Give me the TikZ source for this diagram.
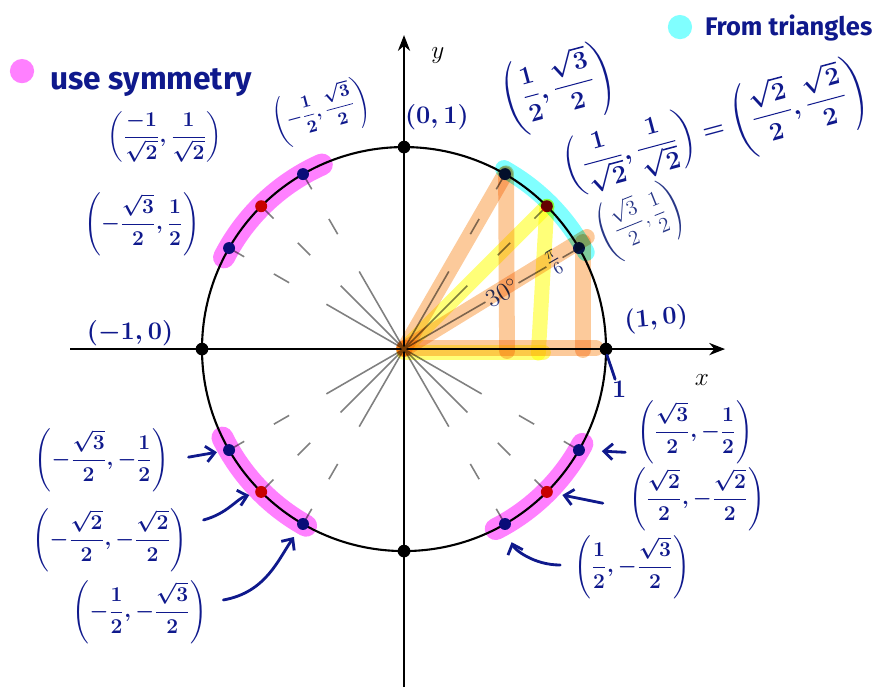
\documentclass[tikz,border=0pt]{standalone}
\usepackage{amsmath,amssymb}
\usepackage{fontspec}
\setsansfont{Fira Sans}
\usepackage{tikz}
\usetikzlibrary{arrows.meta,positioning,calc}
\definecolor{penBlue}{RGB}{15,25,140}
\definecolor{inkBlue}{RGB}{40,55,135}
\definecolor{dotBlue}{RGB}{10,25,120}
\definecolor{dotRed}{RGB}{200,0,0}
\definecolor{hlPink}{RGB}{255,128,255}
\definecolor{hlCyan}{RGB}{128,255,255}
\definecolor{hlOrange}{RGB}{252,202,155}
\definecolor{hlYellow}{RGB}{255,255,120}
\tikzset{
  hand/.style={text=penBlue, font=\boldmath\large, inner sep=1pt},
  handword/.style={text=penBlue, font=\sffamily\bfseries, inner sep=1pt},
  handarrow/.style={penBlue, line width=1.6pt, line cap=round, -{Straight Barb[length=5pt,width=9pt]}},
  hilite/.style={line width=#1, line cap=round, line join=round, blend mode=multiply},
  ray/.style={gray, line width=0.9pt, dash pattern=on 51pt off 24.5pt on 10pt off 19.5pt on 12pt},
}

\begin{document}
\begin{tikzpicture}[x=4.04cm, y=4.04cm]
    \useasboundingbox (-2.0,-1.673) rectangle (2.381,1.728);
    % Points on the unit circle
    \foreach \a in {0,30,45,60,90,120,135,150,180,210,225,240,270,300,315,330}
      \coordinate (p\a) at (\a:1);
    % Axes
    \coordinate (xL) at (-1.653,0);
    \coordinate (xR) at (1.589,0);
    \coordinate (yB) at (0,-1.673);
    \coordinate (yT) at (0,1.554);
    \draw[-{Stealth[length=9pt,width=7pt]}, line width=0.9pt] (xL) -- (xR);
    \draw[-{Stealth[length=9pt,width=7pt]}, line width=0.9pt] (yB) -- (yT);
    \node[font=\Large] (xlab) at (1.475,-0.153) {$x$};
    \node[font=\Large] (ylab) at (0.168,1.455) {$y$};
    % Rays to the special angles
    \foreach \a in {45,60,120,135,150,210,225,240,300,315,330}
      \draw[ray] (0,0) -- (p\a);
    \draw[gray, line width=0.9pt] (0,0) -- (p30)
      node[pos=0.56, sloped, fill=white, inner sep=1pt, text=inkBlue, font=\Large] (deg) {$30^\circ$}
      node[pos=0.86, sloped, fill=white, inner sep=1pt, text=inkBlue, font=\Large] (rad) {$\frac{\pi}{6}$};
    % Unit circle
    \draw[line width=1.2pt] (0,0) circle (1);
    % Dots
    \foreach \a in {0,90,180,270}
      \fill (p\a) circle (3.6pt);
    \foreach \a in {30,60,120,150,210,240,300,330}
      \fill[dotBlue] (p\a) circle (3.4pt);
    \foreach \a in {45,135,225,315}
      \fill[dotRed] (p\a) circle (3.4pt);
    % Highlighter: symmetry
    \draw[hilite=12.5pt, hlPink] (114:1) arc (114:153:1);
    \draw[hilite=12.5pt, hlPink] (206:1) arc (206:241:1);
    \draw[hilite=12.5pt, hlPink] (297:1) arc (297:332:1);
    % Highlighter: triangles
    \draw[hilite=10pt, hlCyan] (61:1.02) arc (61:28:1.02);
    \draw[hilite=9pt, hlOrange] (0,0.005) -- (0.95,0.005);
    \draw[hilite=9pt, hlOrange] (0,0) -- (0.905,0.555);
    \draw[hilite=9pt, hlOrange] (0.885,0.53) -- (0.885,-0.005);
    \draw[hilite=9pt, hlOrange] (0,0) -- (p60);
    \draw[hilite=9pt, hlOrange] (0.505,0.87) -- (0.51,-0.01);
    \draw[hilite=8.5pt, hlYellow] (0,-0.015) -- (0.69,-0.015);
    \draw[hilite=8.5pt, hlYellow] (0,0) -- (p45);
    \draw[hilite=8.5pt, hlYellow] (p45) -- (0.665,-0.02);
    % Legend
    \fill[hlPink] (-1.891,1.376) circle (0.06);
    \node[handword, anchor=west, font=\sffamily\bfseries\fontsize{18}{22}\selectfont] (symm) at (-1.76,1.32) {use symmetry};
    \fill[hlCyan] (1.366,1.594) circle (0.06);
    \node[handword, anchor=west, font=\sffamily\bfseries\fontsize{14.5}{17}\selectfont] (tri) at (1.48,1.59) {From triangles};
    % Axis points
    \node[hand, font=\boldmath\Large] (c90) at (0.163,1.149) {$(0,1)$};
    \node[hand, font=\boldmath\Large] (c180) at (-1.356,0.079) {$(-1,0)$};
    \node[hand, font=\boldmath\Large, rotate=5] (c0) at (1.248,0.149) {$(1,0)$};
    \node[hand, font=\boldmath\Large] (one) at (1.065,-0.2) {$1$};
    \draw[penBlue, line width=1.6pt, line cap=round] ($(p0)+(0.005,-0.03)$) -- ($(one.north)+(-0.02,0)$);
    % First quadrant
    \node[hand, font=\boldmath\Large, rotate=15] (c60) at (0.765,1.29)
      {$\left(\dfrac{1}{2},\dfrac{\sqrt{3}}{2}\right)$};
    \node[hand, font=\boldmath\Large, rotate=15] (c45) at (1.54,1.085)
      {$\left(\dfrac{1}{\sqrt{2}},\dfrac{1}{\sqrt{2}}\right)=\left(\dfrac{\sqrt{2}}{2},\dfrac{\sqrt{2}}{2}\right)$};
    \node[text=inkBlue, font=\large, rotate=22, inner sep=1pt] (c30) at (1.17,0.632)
      {$\left(\dfrac{\sqrt{3}}{2},\dfrac{1}{2}\right)$};
    % Second quadrant
    \node[hand, font=\boldmath\normalsize, rotate=15] (c120) at (-0.411,1.173)
      {$\left(-\dfrac{1}{2},\dfrac{\sqrt{3}}{2}\right)$};
    \node[hand] (c135) at (-1.183,1.05)
      {$\left(\dfrac{-1}{\sqrt{2}},\dfrac{1}{\sqrt{2}}\right)$};
    \node[hand] (c150) at (-1.297,0.619)
      {$\left(-\dfrac{\sqrt{3}}{2},\dfrac{1}{2}\right)$};
    % Third quadrant
    \node[hand] (c210) at (-1.495,-0.55)
      {$\left(-\dfrac{\sqrt{3}}{2},-\dfrac{1}{2}\right)$};
    \node[hand] (c225) at (-1.455,-0.946)
      {$\left(-\dfrac{\sqrt{2}}{2},-\dfrac{\sqrt{2}}{2}\right)$};
    \node[hand] (c240) at (-1.307,-1.302)
      {$\left(-\dfrac{1}{2},-\dfrac{\sqrt{3}}{2}\right)$};
    \draw[handarrow, shorten <=10pt, shorten >=7pt] (c210.east) -- (p210);
    \draw[handarrow, shorten >=7pt] ($(c225.east)+(0.07,0.1)$) to[out=15, in=195] (p225);
    \draw[handarrow, shorten >=9pt] ($(c240.east)+(0.07,0.06)$) to[out=10, in=235] (p240);
    % Fourth quadrant
    \node[hand] (c330) at (1.441,-0.411)
      {$\left(\dfrac{\sqrt{3}}{2},-\dfrac{1}{2}\right)$};
    \node[hand] (c315) at (1.45,-0.743)
      {$\left(\dfrac{\sqrt{2}}{2},-\dfrac{\sqrt{2}}{2}\right)$};
    \node[hand] (c300) at (1.129,-1.079)
      {$\left(\dfrac{1}{2},-\dfrac{\sqrt{3}}{2}\right)$};
    \draw[handarrow, shorten >=13pt] ($(c330.west)+(-0.05,-0.1)$) -- (p330);
    \draw[handarrow, shorten >=9pt] ($(c315.west)+(-0.12,-0.02)$) -- (p315);
    \draw[handarrow, shorten >=11pt] ($(c300.west)+(-0.06,0.01)$) to[out=180, in=-70] (p300);
  \end{tikzpicture}
\end{document}
